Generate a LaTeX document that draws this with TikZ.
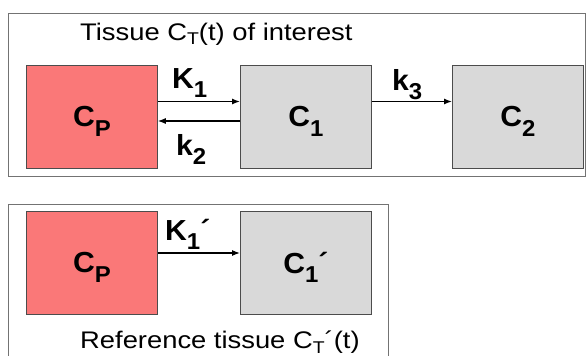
\documentclass[tikz,border=0pt]{standalone}
\usepackage{fontspec}
\setmainfont{Liberation Sans}
\usetikzlibrary{arrows.meta}
\definecolor{cpred}{HTML}{FA7878}
\definecolor{cgray}{HTML}{D9D9D9}
\newcommand{\lo}[1]{\raisebox{-9.5pt}[0pt][0pt]{\fontsize{23}{23}\selectfont #1}}
\newcommand{\tsub}[1]{\raisebox{-5pt}{\fontsize{17}{17}\selectfont #1}}
\newcommand{\wide}[1]{\scalebox{1.14}[1]{#1}}
\newcommand{\bwide}[1]{\scalebox{1.04}[1]{#1}}
\begin{document}
\begin{tikzpicture}[x=1pt,y=-1pt,
  comp/.style={draw=black!70, line width=0.8pt, minimum width=131pt, minimum height=103pt, inner sep=0pt, font=\fontsize{29}{29}\selectfont\bfseries},
  cp/.style={comp, fill=cpred},
  cc/.style={comp, fill=cgray},
  frame/.style={draw=black!55, line width=0.8pt},
  flow/.style={-{Latex[length=8pt,width=6pt]}, line width=1.2pt},
  rate/.style={font=\fontsize{29}{29}\selectfont\bfseries, inner sep=0pt},
  captxt/.style={font=\fontsize{24}{24}\selectfont, inner sep=0pt}
]
\useasboundingbox (0,0) rectangle (587,356);
% top frame
\draw[frame] (8,13) rectangle (585,176);
\node[captxt, anchor=base west] (t1) at (80,40) {\wide{Tissue C\tsub{T}(t) of interest}};
\node[cp, anchor=north west] (cp1) at (26,65) {\bwide{C\lo{P}}};
\node[cc, anchor=north west] (c1) at (240,65) {\bwide{C\lo{1}}};
\node[cc, anchor=north west] (c2) at (452,65) {\bwide{C\lo{2}}};
\coordinate (a1s) at (cp1.east |- 0,101.5);
\coordinate (a1e) at (c1.west |- 0,101.5);
\coordinate (a2s) at (c1.west |- 0,121);
\coordinate (a2e) at (cp1.east |- 0,121);
\coordinate (a3s) at (c1.east |- 0,101.5);
\coordinate (a3e) at (c2.west |- 0,101.5);
\draw[flow] (a1s) -- (a1e);
\draw[flow] (a2s) -- (a2e);
\draw[flow] (a3s) -- (a3e);
\node[rate, anchor=base west] (k1) at (172,88) {\bwide{K\lo{1}}};
\node[rate, anchor=base west] (k2) at (176,155) {\bwide{k\lo{2}}};
\node[rate, anchor=base west] (k3) at (392,90) {\bwide{k\lo{3}}};
% bottom frame
\draw[frame] (8,358) -- (8,204) -- (388,204) -- (388,358);
\node[cp, anchor=north west] (cp2) at (26,211) {\bwide{C\lo{P}}};
\node[cc, anchor=north west] (c1r) at (240,211) {\bwide{C\lo{1}´}};
\coordinate (a4s) at (cp2.east |- 0,253);
\coordinate (a4e) at (c1r.west |- 0,253);
\draw[flow] (a4s) -- (a4e);
\node[rate, anchor=base west] (k1r) at (165,240) {\bwide{K\lo{1}´}};
\node[captxt, anchor=base west] (t2) at (80,348) {\wide{Reference tissue C\tsub{T}´(t)}};
\end{tikzpicture}
\end{document}
